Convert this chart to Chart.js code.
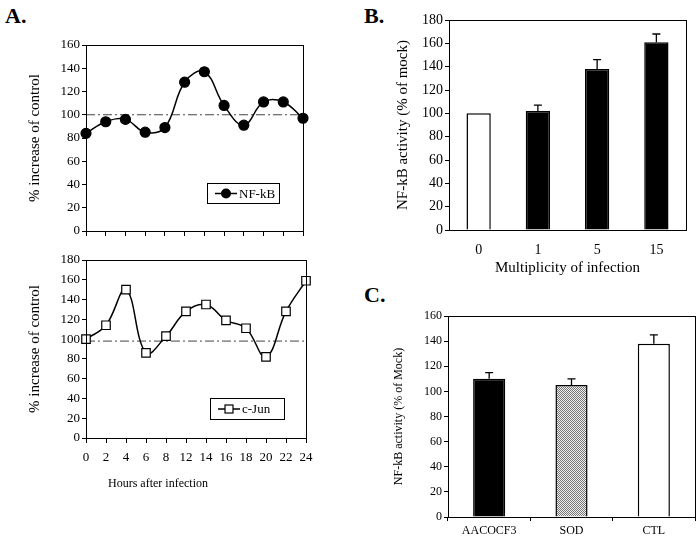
<!DOCTYPE html>
<html>
<head>
<meta charset="utf-8">
<script src="https://cdn.jsdelivr.net/npm/chart.js@4.4.0/dist/chart.umd.min.js"></script>
<style>
body { margin: 0; background: #fff; width: 697px; height: 550px; position: relative; overflow: hidden; }
canvas { position: absolute; }
.tag { position: absolute; font: bold 22px "Liberation Serif", serif; color: #000; }
.xtitle { position: absolute; font: 12px "Liberation Serif", serif; color: #000; white-space: nowrap; }
</style>
</head>
<body>
<div class="tag" style="left:5px;top:3px">A.</div>
<div class="tag" style="left:364px;top:3px">B.</div>
<div class="tag" style="left:364px;top:282px">C.</div>
<canvas id="nfkbTime" width="320" height="215" style="left:0;top:30px"></canvas>
<canvas id="cjunTime" width="320" height="245" style="left:0;top:245px"></canvas>
<canvas id="moiChart" width="317" height="285" style="left:380px;top:0"></canvas>
<canvas id="treatChart" width="317" height="250" style="left:380px;top:300px"></canvas>
<div class="xtitle" style="left:108px;top:476px">Hours after infection</div>
<script>
// panel A: time course
var hours = ['0', '2', '4', '6', '8', '12', '14', '16', '18', '20', '22', '24'];
var nfkbValues = [84, 94, 96, 85, 89, 128, 137, 108, 91, 111, 111, 97];
var cjunValues = [100, 114, 150, 86, 103, 128, 135, 119, 111, 82, 128, 159];
var nfkbBaseline = 100;
var cjunBaseline = 98;

// panel B: multiplicity of infection
var moiLabels = ['0', '1', '5', '15'];
var moiValues = [100, 102, 138, 161];
var moiErrors = [0, 5, 8, 7];

// panel C: treatments
var treatLabels = ['AACOCF3', 'SOD', 'CTL'];
var treatValues = [110, 105, 138];
var treatErrors = [5, 5, 7];

var SERIF = '"Liberation Serif", "Times New Roman", serif';
Chart.defaults.animation = false;
Chart.defaults.color = '#000';

// box around the plot area
var framePlugin = {
    id: 'frame',
    afterDraw: function (chart) {
        var a = chart.chartArea, ctx = chart.ctx;
        ctx.save();
        ctx.strokeStyle = '#000';
        ctx.lineWidth = 1;
        ctx.strokeRect(a.left + 0.5, a.top + 0.5, a.right - a.left, a.bottom - a.top);
        ctx.restore();
    }
};

// dash-dot control level
var refLinePlugin = {
    id: 'refLine',
    beforeDatasetsDraw: function (chart, args, opts) {
        if (opts.value == null) return;
        var a = chart.chartArea, ctx = chart.ctx;
        var y = chart.scales.y.getPixelForValue(opts.value);
        ctx.save();
        ctx.strokeStyle = '#444';
        ctx.lineWidth = 1;
        ctx.setLineDash([9, 3, 2, 3]);
        ctx.beginPath();
        ctx.moveTo(a.left, y);
        ctx.lineTo(a.right, y);
        ctx.stroke();
        ctx.restore();
    }
};

// boxed legend inside the plot
var boxLegendPlugin = {
    id: 'boxLegend',
    afterDraw: function (chart, args, opts) {
        if (!opts.label) return;
        var a = chart.chartArea, ctx = chart.ctx;
        var x0 = a.right - opts.right - opts.w, y0 = a.bottom - opts.bottom - opts.h;
        ctx.save();
        ctx.fillStyle = '#fff';
        ctx.fillRect(x0, y0, opts.w, opts.h);
        ctx.strokeStyle = '#000';
        ctx.lineWidth = 1;
        ctx.strokeRect(x0 + 0.5, y0 + 0.5, opts.w, opts.h);
        var cy = y0 + opts.h / 2 + 0.5;
        ctx.lineWidth = 1.5;
        ctx.beginPath();
        ctx.moveTo(x0 + 8, cy);
        ctx.lineTo(x0 + 30, cy);
        ctx.stroke();
        if (opts.marker === 'circle') {
            ctx.fillStyle = '#000';
            ctx.beginPath();
            ctx.arc(x0 + 19, cy, 5, 0, Math.PI * 2);
            ctx.fill();
        } else {
            ctx.fillStyle = '#fff';
            ctx.fillRect(x0 + 15, cy - 4, 8, 8);
            ctx.lineWidth = 1.2;
            ctx.strokeRect(x0 + 15, cy - 4, 8, 8);
        }
        ctx.fillStyle = '#000';
        ctx.font = '13px ' + SERIF;
        ctx.textBaseline = 'middle';
        ctx.fillText(opts.label, x0 + 32, cy + 1);
        ctx.restore();
    }
};

// upward error bars with a small cap
var errorBarPlugin = {
    id: 'errorBars',
    afterDatasetsDraw: function (chart, args, opts) {
        if (!opts.errors) return;
        var meta = chart.getDatasetMeta(0), ctx = chart.ctx;
        var vals = chart.data.datasets[0].data;
        ctx.save();
        ctx.strokeStyle = '#000';
        ctx.lineWidth = 1.3;
        meta.data.forEach(function (bar, i) {
            var e = opts.errors[i];
            if (!e) return;
            var yTop = chart.scales.y.getPixelForValue(vals[i] + e);
            ctx.beginPath();
            ctx.moveTo(bar.x, bar.y);
            ctx.lineTo(bar.x, yTop);
            ctx.moveTo(bar.x - 4, yTop);
            ctx.lineTo(bar.x + 4, yTop);
            ctx.stroke();
        });
        ctx.restore();
    }
};

Chart.register(framePlugin, refLinePlugin, boxLegendPlugin, errorBarPlugin);

function yAxis(max, titleText, titleSize, titlePad, width, fontSize) {
    return {
        min: 0, max: max,
        ticks: { stepSize: 20, color: '#000', font: { family: SERIF, size: fontSize }, padding: 2 },
        grid: { drawOnChartArea: false, tickLength: 4, color: '#000' },
        border: { display: true, color: '#000', width: 1 },
        title: { display: true, text: titleText, color: '#000', font: { family: SERIF, size: titleSize }, padding: { top: titlePad, bottom: 0 } },
        afterFit: function (s) { s.width = width; }
    };
}

function lineChart(id, values, baseline, style, showLabels, xHeight, pad, legendPos) {
    var xScale = {
        type: 'category', offset: false,
        ticks: { display: showLabels, autoSkip: false, maxRotation: 0, color: '#000', font: { family: SERIF, size: 13 }, padding: 7 },
        grid: { drawOnChartArea: false, tickLength: 5, color: '#000' },
        border: { display: true, color: '#000', width: 1 },
        afterFit: function (s) { s.height = xHeight; }
    };
    return new Chart(document.getElementById(id), {
        type: 'line',
        data: {
            labels: hours,
            datasets: [{
                data: values,
                borderColor: '#000',
                borderWidth: 1.5,
                tension: 0.4,
                clip: false,
                pointStyle: style,
                pointRadius: style === 'circle' ? 5 : 6,
                pointBackgroundColor: style === 'circle' ? '#000' : '#fff',
                pointBorderColor: '#000',
                pointBorderWidth: 1.2
            }]
        },
        options: {
            responsive: false,
            layout: { padding: pad },
            plugins: {
                legend: { display: false },
                tooltip: { enabled: false },
                refLine: { value: baseline },
                boxLegend: legendPos
            },
            scales: { x: xScale, y: yAxis(style === 'circle' ? 160 : 180, '% increase of control', 15, 26, 86, 13) }
        }
    });
}

lineChart('nfkbTime', nfkbValues, nfkbBaseline, 'circle', false, 14,
    { left: 0, right: 17, top: 15, bottom: 0 },
    { label: 'NF-kB', marker: 'circle', right: 24, bottom: 28, w: 72, h: 20 });
lineChart('cjunTime', cjunValues, cjunBaseline, 'rect', true, 30,
    { left: 0, right: 14, top: 15, bottom: 22 },
    { label: 'c-Jun', marker: 'rect', right: 22, bottom: 19, w: 74, h: 21 });

// panel B
new Chart(document.getElementById('moiChart'), {
    type: 'bar',
    data: {
        labels: moiLabels,
        datasets: [{
            data: moiValues,
            backgroundColor: ['#fff', '#000', '#000', '#000'],
            borderColor: '#000',
            borderWidth: 1.5,
            categoryPercentage: 1,
            barPercentage: 0.41
        }]
    },
    options: {
        responsive: false,
        layout: { padding: { left: 0, right: 11, top: 20, bottom: 0 } },
        plugins: { legend: { display: false }, tooltip: { enabled: false }, errorBars: { errors: moiErrors } },
        scales: {
            x: {
                ticks: { color: '#000', font: { family: SERIF, size: 14 }, padding: 12 },
                grid: { display: false, drawTicks: false },
                border: { display: true, color: '#000', width: 1 },
                title: { display: true, text: 'Multiplicity of infection', color: '#000', font: { family: SERIF, size: 15 }, padding: { top: 0, bottom: 8 } },
                afterFit: function (s) { s.height = 55; }
            },
            y: yAxis(180, 'NF-kB activity (% of mock)', 15, 14, 69, 14)
        }
    }
});

// panel C
var stipple = document.createElement('canvas');
stipple.width = 2; stipple.height = 2;
var sctx = stipple.getContext('2d');
sctx.fillStyle = '#eeeeee'; sctx.fillRect(0, 0, 2, 2);
sctx.fillStyle = '#777777'; sctx.fillRect(0, 0, 1, 1); sctx.fillRect(1, 1, 1, 1);
var treatCanvas = document.getElementById('treatChart');
var sodFill = treatCanvas.getContext('2d').createPattern(stipple, 'repeat');

new Chart(treatCanvas, {
    type: 'bar',
    data: {
        labels: treatLabels,
        datasets: [{
            data: treatValues,
            backgroundColor: ['#000', sodFill, '#fff'],
            borderColor: '#000',
            borderWidth: 1.5,
            categoryPercentage: 1,
            barPercentage: 0.39
        }]
    },
    options: {
        responsive: false,
        layout: { padding: { left: 0, right: 2, top: 16, bottom: 0 } },
        plugins: { legend: { display: false }, tooltip: { enabled: false }, errorBars: { errors: treatErrors } },
        scales: {
            x: {
                ticks: { color: '#000', font: { family: SERIF, size: 12 }, padding: 3 },
                grid: { drawOnChartArea: false, tickLength: 4, color: '#000', offset: true },
                border: { display: true, color: '#000', width: 1 },
                afterFit: function (s) { s.height = 33; }
            },
            y: yAxis(160, 'NF-kB activity (% of Mock)', 12, 12, 68, 12)
        }
    }
});
</script>
</body>
</html>
